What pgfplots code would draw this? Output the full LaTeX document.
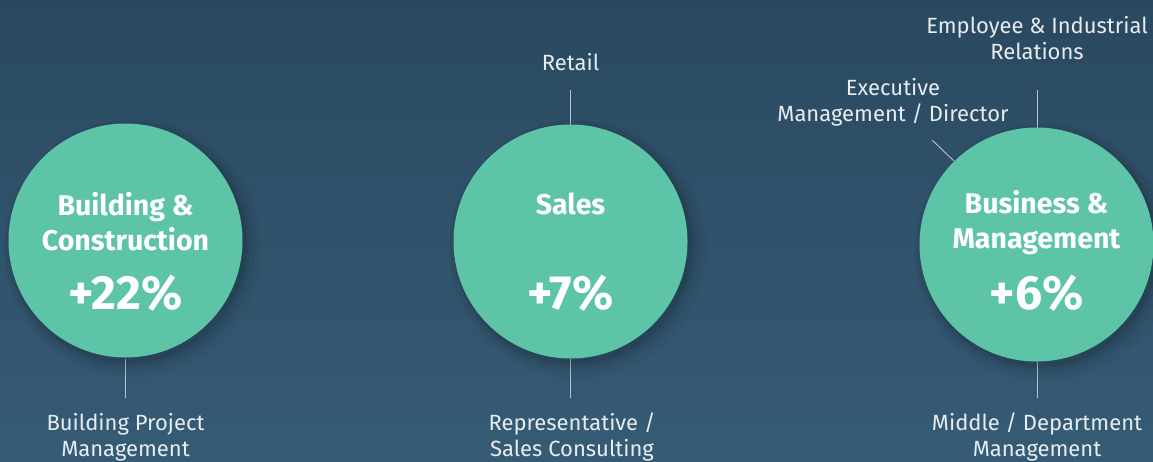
\documentclass[border=0pt]{standalone}
\usepackage{fontspec}
\setmainfont{Fira Sans}
\usepackage{pgfplots}
\usepackage{pgfplotstable}
\pgfplotsset{compat=1.18}
\definecolor{bgtop}{HTML}{2A4960}
\definecolor{bgbot}{HTML}{365B74}
\definecolor{disc}{HTML}{5EC4A8}
\definecolor{txt}{HTML}{E6ECF0}
\definecolor{rule}{HTML}{B8C4CE}

% circle centres (image px, y downward), value = growth in percent
\pgfplotstableread{
x      y     v
125.5  240.5 22
570.5  241.5 7
1036.5 244.5 6
}\circles

\begin{document}
\begin{tikzpicture}
\begin{axis}[at={(0,0)},anchor=south west,scale only axis,
  width=1153pt,height=461pt,xmin=0,xmax=1153,ymin=0,ymax=461,
  y dir=reverse,hide axis,clip=false]
\fill[top color=bgtop,bottom color=bgbot] (axis cs:0,0) rectangle (axis cs:1153,461);
% soft shadow
\addplot[only marks,mark=*,mark size=129pt,mark options={draw opacity=0,fill=black,fill opacity=0.035}]
  table[x expr=\thisrow{x}+7,y expr=\thisrow{y}+8] {\circles};
\addplot[only marks,mark=*,mark size=125pt,mark options={draw opacity=0,fill=black,fill opacity=0.045}]
  table[x expr=\thisrow{x}+5,y expr=\thisrow{y}+6] {\circles};
\addplot[only marks,mark=*,mark size=121pt,mark options={draw opacity=0,fill=black,fill opacity=0.06}]
  table[x expr=\thisrow{x}+4,y expr=\thisrow{y}+5] {\circles};
\addplot[only marks,mark=*,mark size=118.5pt,mark options={draw opacity=0,fill=black,fill opacity=0.08}]
  table[x expr=\thisrow{x}+3,y expr=\thisrow{y}+4] {\circles};
\addplot[only marks,mark=*,mark size=117pt,mark options={draw opacity=0,fill=disc}]
  table[x=x,y=y] {\circles};
% connector lines
\addplot[rule,line width=0.9pt] coordinates {(125.5,359)(125.5,398)};
\addplot[rule,line width=0.9pt] coordinates {(570.5,90)(570.5,125)};
\addplot[rule,line width=0.9pt] coordinates {(570.5,359)(570.5,398)};
\addplot[rule,line width=0.9pt] coordinates {(1037,90)(1037,128)};
\addplot[rule,line width=0.9pt] coordinates {(932,140)(954,161)};
\addplot[rule,line width=0.9pt] coordinates {(1037,362)(1037,398)};
\coordinate (t1) at (axis cs:125.5,221.5);
\coordinate (p1) at (axis cs:125.5,293);
\coordinate (t2) at (axis cs:570.5,204);
\coordinate (p2) at (axis cs:570.5,293);
\coordinate (t3) at (axis cs:1036.5,222.5);
\coordinate (p3) at (axis cs:1036.5,293);
\coordinate (l1) at (axis cs:125.5,437);
\coordinate (l2) at (axis cs:572,437);
\coordinate (l3) at (axis cs:1037,437);
\coordinate (l4) at (axis cs:570.5,62);
\coordinate (l5) at (axis cs:893,102);
\coordinate (l6) at (axis cs:1037,38);
\end{axis}
% circle texts
\begin{scope}[every node/.style={text=white,align=center}]
\node[font=\fontsize{28.5}{35}\selectfont\bfseries] at (t1) {Building \&\\Construction};
\node[font=\fontsize{48}{52}\selectfont\bfseries] at (p1) {+22\%};
\node[font=\fontsize{28.5}{35}\selectfont\bfseries] at (t2) {Sales};
\node[font=\fontsize{48}{52}\selectfont\bfseries] at (p2) {+7\%};
\node[font=\fontsize{28.5}{35}\selectfont\bfseries] at (t3) {Business \&\\Management};
\node[font=\fontsize{48}{52}\selectfont\bfseries] at (p3) {+6\%};
\end{scope}
% outer labels
\begin{scope}[every node/.style={text=txt,align=center,font=\fontsize{22}{26}\selectfont}]
\node at (l1) {Building Project\\Management};
\node at (l2) {Representative /\\Sales Consulting};
\node at (l3) {Middle / Department\\Management};
\node at (l4) {Retail};
\node at (l5) {Executive\\Management / Director};
\node at (l6) {Employee \& Industrial\\Relations};
\end{scope}
\pgfresetboundingbox
\path[use as bounding box] (0,0) rectangle (1153pt,461pt);
\end{tikzpicture}
\end{document}
